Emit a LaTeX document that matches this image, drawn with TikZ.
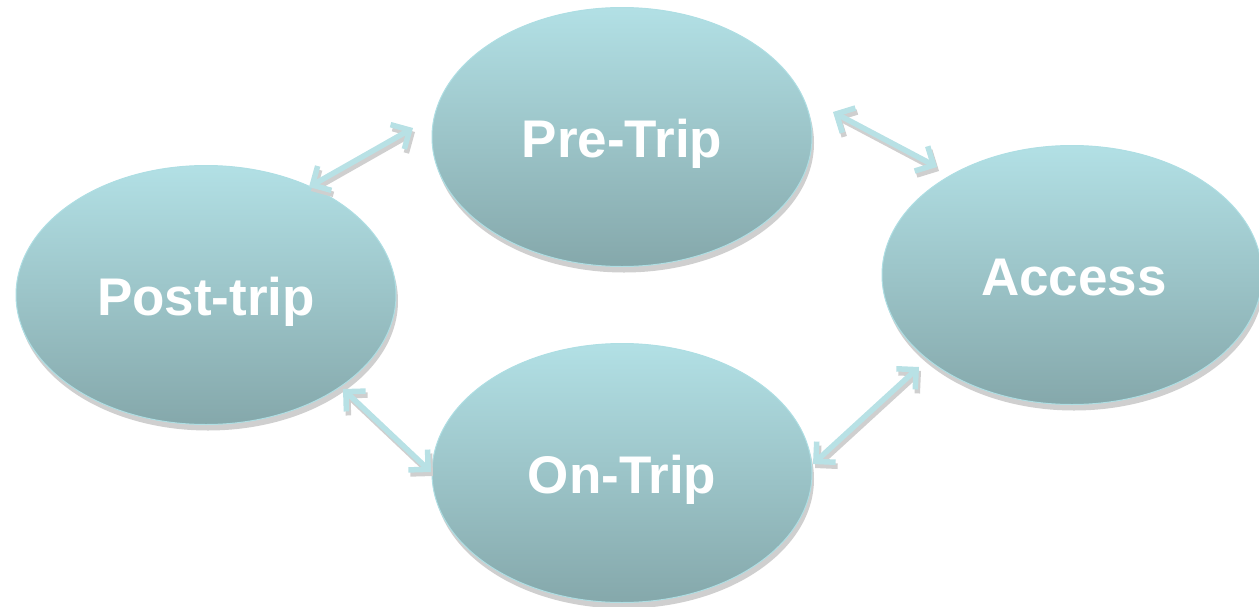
\documentclass[tikz,border=0pt]{standalone}
\usepackage{fontspec}
\setmainfont{Liberation Sans}
\usetikzlibrary{shapes.geometric,shadows,arrows.meta}
\definecolor{ctop}{HTML}{B2E0E5}
\definecolor{cbot}{HTML}{85A8AB}
\definecolor{cedge}{HTML}{AEDEE3}
\definecolor{carrow}{HTML}{B8E1E5}
\definecolor{cshadow}{HTML}{CFCFCF}
\tikzset{
  phase/.style={ellipse, minimum width=380pt, minimum height=259pt, inner sep=0pt,
    top color=ctop, bottom color=cbot, draw=cedge, line width=1pt,
    drop shadow={shadow xshift=2pt, shadow yshift=-6pt, fill=cshadow, opacity=1},
    text height=51pt, text depth=11pt,
    text=white, font=\fontsize{53}{60}\selectfont\bfseries},
  link/.style={carrow, line width=5.5pt, {Straight Barb[length=14pt,width=28pt]}-{Straight Barb[length=14pt,width=28pt]}},
  linkshadow/.style={cshadow, line width=5.5pt, {Straight Barb[length=14pt,width=28pt]}-{Straight Barb[length=14pt,width=28pt]}, transform canvas={shift={(2pt,-4pt)}}},
}
\begin{document}
\begin{tikzpicture}[x=1pt,y=-1pt]
\useasboundingbox (0,0) rectangle (1259,606);
\node[phase] (pre) at (622,137) {Pre-Trip};
\node[phase] (post) at (206,295) {Post-trip};
\node[phase] (access) at (1072,275) {\hspace{4pt}Access};
\node[phase] (on) at (622,473) {On-Trip};
\coordinate (a1) at (309,187);
\coordinate (a2) at (413,128);
\coordinate (b1) at (833,112);
\coordinate (b2) at (937,167);
\coordinate (c1) at (919,367);
\coordinate (c2) at (813,464);
\coordinate (d1) at (343,389);
\coordinate (d2) at (431,472);
\foreach \p/\q in {a1/a2,b1/b2,c1/c2,d1/d2}{
  \draw[linkshadow] (\p) -- (\q);
}
\draw[link] (a1) -- (a2);
\draw[link] (b1) -- (b2);
\draw[link] (c1) -- (c2);
\draw[link] (d1) -- (d2);
\end{tikzpicture}
\end{document}
